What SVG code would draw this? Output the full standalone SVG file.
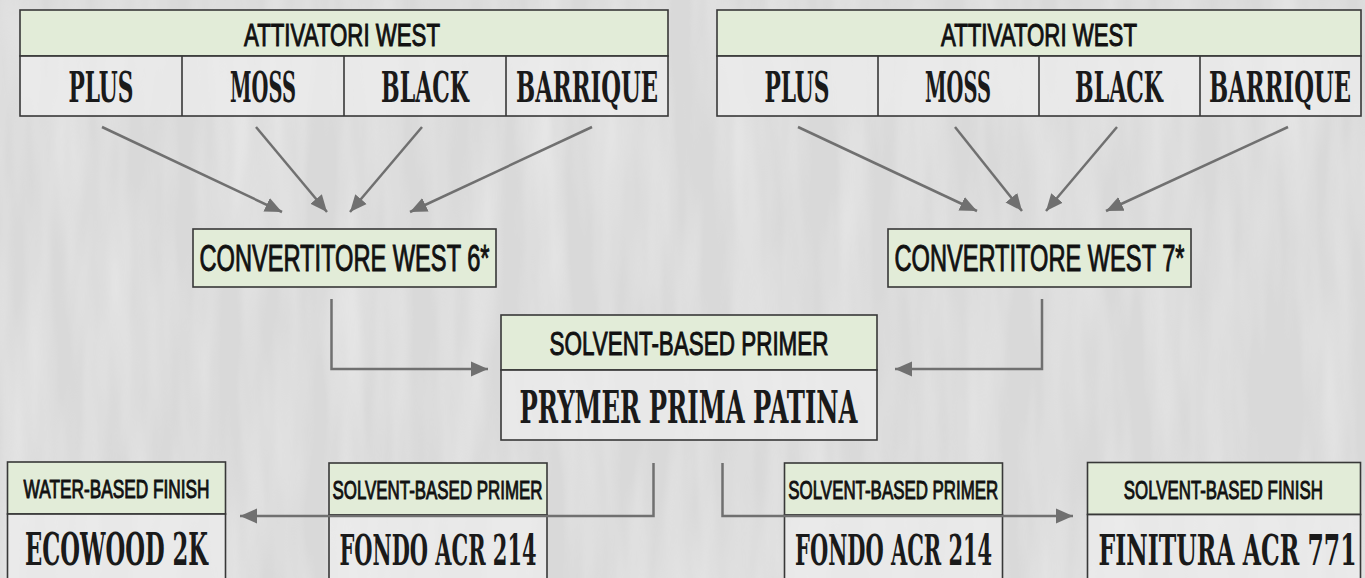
<svg xmlns="http://www.w3.org/2000/svg" width="1365" height="578" viewBox="0 0 1365 578">
  <defs>
    <filter id="tex" x="0" y="0" width="1365" height="578" filterUnits="userSpaceOnUse">
      <feTurbulence type="fractalNoise" baseFrequency="0.03 0.004" numOctaves="3" seed="7"/>
      <feColorMatrix type="matrix" values="0 0 0 0 1  0 0 0 0 1  0 0 0 0 1  1.2 0 0 0 -0.4"/>
    </filter>
    <marker id="ah" markerUnits="userSpaceOnUse" markerWidth="18" markerHeight="18" viewBox="0 0 18 18" refX="17" refY="9" orient="auto">
      <path d="M0,1.5 L17,9 L0,16.5 z" fill="#707070"/>
    </marker>
    <style>
      .hdr { fill: #e2ecd8; stroke: #383838; stroke-width: 1.6; }
      .row { fill: #eeeeee; fill-opacity: 0.7; stroke: #383838; stroke-width: 1.6; }
      .div { stroke: #383838; stroke-width: 1.6; fill: none; }
      .sans { font-family: "Liberation Sans Narrow", "Liberation Sans", Arial, sans-serif; fill: #111; stroke: #111; stroke-width: 1; text-anchor: middle; }
      .wood { font-family: "DejaVu Serif Condensed", "DejaVu Serif", serif; font-weight: bold; fill: #1a1a1a; text-anchor: middle; }
      .con { stroke: #707070; stroke-width: 2.5; fill: none; marker-end: url(#ah); }
    </style>
  </defs>

  <!-- background -->
  <rect x="0" y="0" width="1365" height="578" fill="#d9d9d9"/>
  <rect x="0" y="0" width="1365" height="578" filter="url(#tex)" opacity="0.5"/>

  <!-- left activator table -->
  <g id="attivatori-left">
    <rect class="hdr" x="20" y="10" width="648" height="46"/>
    <rect class="row" x="20" y="56" width="648" height="60"/>
    <path class="div" d="M182,56 V116 M344,56 V116 M506,56 V116"/>
    <text class="sans" transform="translate(342,45.5) scale(0.5,1)" x="0" y="0" font-size="31" textLength="392" lengthAdjust="spacingAndGlyphs">ATTIVATORI WEST</text>
    <text class="wood" transform="translate(101,101.5) scale(0.4,1)" x="0" y="0" font-size="42" textLength="162.5" lengthAdjust="spacingAndGlyphs">PLUS</text>
    <text class="wood" transform="translate(263,101.5) scale(0.4,1)" x="0" y="0" font-size="42" textLength="165" lengthAdjust="spacingAndGlyphs">MOSS</text>
    <text class="wood" transform="translate(425,101.5) scale(0.4,1)" x="0" y="0" font-size="42" textLength="220" lengthAdjust="spacingAndGlyphs">BLACK</text>
    <text class="wood" transform="translate(587,101.5) scale(0.4,1)" x="0" y="0" font-size="42" textLength="355" lengthAdjust="spacingAndGlyphs">BARRIQUE</text>
  </g>

  <!-- right activator table -->
  <g id="attivatori-right">
    <rect class="hdr" x="717" y="10" width="644" height="46"/>
    <rect class="row" x="717" y="56" width="644" height="60"/>
    <path class="div" d="M878,56 V116 M1039,56 V116 M1200,56 V116"/>
    <text class="sans" transform="translate(1039,45.5) scale(0.5,1)" x="0" y="0" font-size="31" textLength="392" lengthAdjust="spacingAndGlyphs">ATTIVATORI WEST</text>
    <text class="wood" transform="translate(797,101.5) scale(0.4,1)" x="0" y="0" font-size="42" textLength="162.5" lengthAdjust="spacingAndGlyphs">PLUS</text>
    <text class="wood" transform="translate(958,101.5) scale(0.4,1)" x="0" y="0" font-size="42" textLength="165" lengthAdjust="spacingAndGlyphs">MOSS</text>
    <text class="wood" transform="translate(1119,101.5) scale(0.4,1)" x="0" y="0" font-size="42" textLength="220" lengthAdjust="spacingAndGlyphs">BLACK</text>
    <text class="wood" transform="translate(1280,101.5) scale(0.4,1)" x="0" y="0" font-size="42" textLength="355" lengthAdjust="spacingAndGlyphs">BARRIQUE</text>
  </g>

  <!-- converters -->
  <g id="convertitore-6">
    <rect class="hdr" x="193" y="229" width="303" height="58"/>
    <text class="sans" transform="translate(344.5,271) scale(0.5,1)" x="0" y="0" font-size="37" textLength="580" lengthAdjust="spacingAndGlyphs">CONVERTITORE WEST 6*</text>
  </g>
  <g id="convertitore-7">
    <rect class="hdr" x="888" y="229" width="303" height="58"/>
    <text class="sans" transform="translate(1039.5,271) scale(0.5,1)" x="0" y="0" font-size="37" textLength="580" lengthAdjust="spacingAndGlyphs">CONVERTITORE WEST 7*</text>
  </g>

  <!-- primer -->
  <g id="prymer">
    <rect class="hdr" x="501" y="315" width="376" height="55"/>
    <rect class="row" x="501" y="370" width="376" height="70"/>
    <text class="sans" transform="translate(689,355) scale(0.5,1)" x="0" y="0" font-size="34" textLength="558" lengthAdjust="spacingAndGlyphs">SOLVENT-BASED PRIMER</text>
    <text class="wood" transform="translate(688.5,422.5) scale(0.4,1)" x="0" y="0" font-size="45" textLength="845" lengthAdjust="spacingAndGlyphs">PRYMER PRIMA PATINA</text>
  </g>

  <!-- bottom boxes -->
  <g id="ecowood">
    <rect class="hdr" x="7.5" y="462" width="218" height="52"/>
    <rect class="row" x="7.5" y="514" width="218" height="80"/>
    <text class="sans" transform="translate(116.5,497.7) scale(0.5,1)" x="0" y="0" font-size="25.5" textLength="372" lengthAdjust="spacingAndGlyphs">WATER-BASED FINISH</text>
    <text class="wood" transform="translate(116.5,565) scale(0.4,1)" x="0" y="0" font-size="45" textLength="457.5" lengthAdjust="spacingAndGlyphs">ECOWOOD 2K</text>
  </g>
  <g id="fondo-left">
    <rect class="hdr" x="329" y="463" width="218" height="52"/>
    <rect class="row" x="329" y="515" width="218" height="80"/>
    <text class="sans" transform="translate(437.5,499) scale(0.5,1)" x="0" y="0" font-size="26" textLength="420" lengthAdjust="spacingAndGlyphs">SOLVENT-BASED PRIMER</text>
    <text class="wood" transform="translate(438,565) scale(0.4,1)" x="0" y="0" font-size="42" textLength="492.5" lengthAdjust="spacingAndGlyphs">FONDO ACR 214</text>
  </g>
  <g id="fondo-right">
    <rect class="hdr" x="784.5" y="463" width="218" height="52"/>
    <rect class="row" x="784.5" y="515" width="218" height="80"/>
    <text class="sans" transform="translate(893.3,499) scale(0.5,1)" x="0" y="0" font-size="26" textLength="420" lengthAdjust="spacingAndGlyphs">SOLVENT-BASED PRIMER</text>
    <text class="wood" transform="translate(893.6,565) scale(0.4,1)" x="0" y="0" font-size="42" textLength="492.5" lengthAdjust="spacingAndGlyphs">FONDO ACR 214</text>
  </g>
  <g id="finitura">
    <rect class="hdr" x="1087.5" y="462.5" width="273" height="52"/>
    <rect class="row" x="1087.5" y="514.5" width="273" height="80"/>
    <text class="sans" transform="translate(1223.3,499) scale(0.5,1)" x="0" y="0" font-size="26" textLength="398" lengthAdjust="spacingAndGlyphs">SOLVENT-BASED FINISH</text>
    <text class="wood" transform="translate(1227.5,564.5) scale(0.4,1)" x="0" y="0" font-size="42" textLength="645" lengthAdjust="spacingAndGlyphs">FINITURA ACR 771</text>
  </g>

  <!-- connectors -->
  <g id="connectors">
    <path class="con" d="M102,127 L282,212"/>
    <path class="con" d="M256,127 L327,212"/>
    <path class="con" d="M422,127 L350,212"/>
    <path class="con" d="M592,127 L410,212"/>
    <path class="con" d="M798,127 L977,211"/>
    <path class="con" d="M955,127 L1022,211"/>
    <path class="con" d="M1117,127 L1046,211"/>
    <path class="con" d="M1288,127 L1106,211"/>
    <path class="con" d="M331.5,299 V369 H488"/>
    <path class="con" d="M1042,299 V369 H895"/>
    <path class="con" d="M653.5,463 V516 H240"/>
    <path class="con" d="M722.5,463 V516 H1073"/>
  </g>
</svg>
